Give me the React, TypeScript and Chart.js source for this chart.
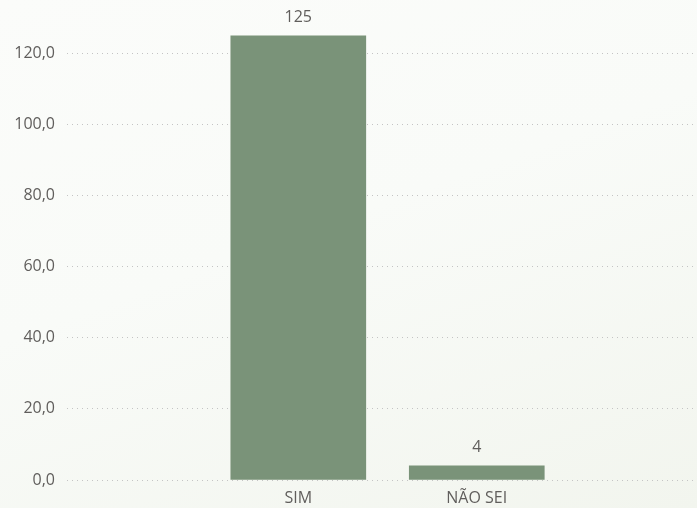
import React, { useEffect, useRef } from "react";
import { Chart, registerables } from "chart.js";

Chart.register(...registerables);

const categories = ["SIM", "NÃO SEI"];
const values = [125, 4];
const yTicks = [0, 20, 40, 60, 80, 100, 120];

const FONT = "'Open Sans', 'Noto Sans', sans-serif";
const TEXT = "#605e5c";

const valueLabels = {
  id: "valueLabels",
  afterDatasetsDraw(chart: any) {
    const ctx = chart.ctx;
    const meta = chart.getDatasetMeta(0);
    ctx.save();
    ctx.font = `16px ${FONT}`;
    ctx.fillStyle = TEXT;
    ctx.textAlign = "center";
    ctx.textBaseline = "bottom";
    meta.data.forEach((bar: any, i: number) => {
      ctx.fillText(String(values[i]), bar.x, bar.y - 10);
    });
    ctx.restore();
  },
};

export default function App() {
  const ref = useRef<HTMLCanvasElement | null>(null);
  useEffect(() => {
    document.body.style.margin = "0";
    const chart = new Chart(ref.current as HTMLCanvasElement, {
      type: "bar",
      data: {
        datasets: [
          {
            data: values.map((v, i) => ({ x: i, y: v })),
            backgroundColor: "#7a9379",
            barThickness: 135,
          },
        ],
      },
      options: {
        animation: false,
        responsive: true,
        maintainAspectRatio: false,
        layout: { padding: { top: 0, right: 0, bottom: 0, left: 0 } },
        plugins: { legend: { display: false }, tooltip: { enabled: false } },
        scales: {
          x: {
            type: "linear",
            offset: false,
            min: -1.296,
            max: 2.234,
            afterFit: (s: any) => {
              s.height = 28;
              s.paddingLeft = 0;
              s.paddingRight = 0;
            },
            grid: { display: false, drawTicks: false },
            border: { display: false },
            ticks: {
              stepSize: 1,
              autoSkip: false,
              maxRotation: 0,
              padding: 9,
              color: TEXT,
              font: { family: FONT, size: 16 },
              callback: (v: any) =>
                Number.isInteger(v) && categories[v] !== undefined ? categories[v] : "",
            },
          },
          y: {
            min: 0,
            max: 129,
            afterBuildTicks: (s: any) => {
              s.ticks = yTicks.map((v) => ({ value: v }));
            },
            afterFit: (s: any) => {
              s.width = 67;
            },
            grid: {
              color: "#c4c4c4",
              drawTicks: false,
            },
            border: { display: false, dash: [1, 4] },
            ticks: {
              padding: 12,
              color: TEXT,
              font: { family: FONT, size: 16 },
              callback: (v: any) => Number(v).toFixed(1).replace(".", ","),
            },
          },
        },
      },
      plugins: [valueLabels],
    });
    return () => chart.destroy();
  }, []);
  return (
    <div
      style={{
        position: "fixed",
        left: 0,
        top: 0,
        width: 697,
        height: 508,
        background:
          "linear-gradient(160deg, #fbfcfa 0%, #f9fbf8 45%, #f2f5ee 100%)",
      }}
    >
      <canvas ref={ref} />
    </div>
  );
}
